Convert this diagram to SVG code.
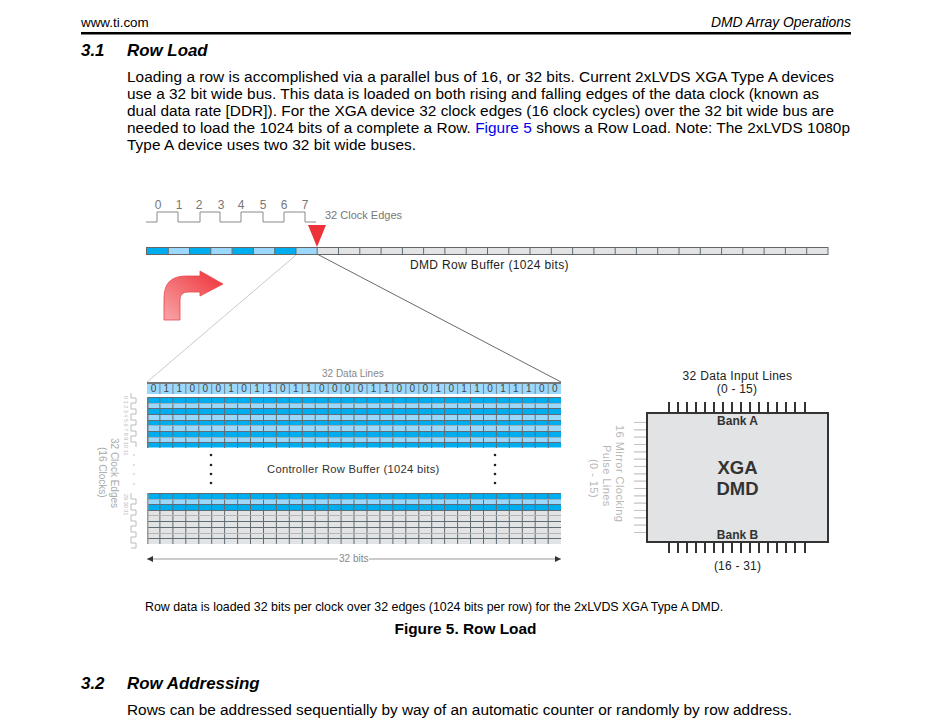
<svg xmlns="http://www.w3.org/2000/svg" width="928" height="727" viewBox="0 0 928 727">
<style>
text{font-family:"Liberation Sans",Arial,sans-serif}
.b{font-size:15.4px;fill:#000}
.h{font-size:16.9px;font-weight:bold;font-style:italic;fill:#000}
.bit{font-size:10px;fill:#444;text-anchor:middle}
.ck{font-size:12px;fill:#777;text-anchor:middle}
.wave{fill:none;stroke:#8a8a8a;stroke-width:1}
.vwave{fill:none;stroke:#bbb;stroke-width:1}
.blue{fill:#00aeef}.light{fill:#9bd8fb}.grey{fill:#e2e3e4}
.hl{stroke:#5f6c74;stroke-width:1;fill:none}
.hs{stroke:#9db0ba;stroke-width:1;fill:none}
.vl{stroke:#5f6c74;stroke-width:1;fill:none}
.pin{stroke:#333;stroke-width:2;fill:none}
.tiny{font-size:5.5px;fill:#bbb}
</style>
<defs>
<path id="vgrid" class="vl" d="M159.900 0V51M172.900 0V51M185.800 0V51M198.800 0V51M211.700 0V51M224.600 0V51M237.600 0V51M250.500 0V51M263.500 0V51M276.400 0V51M289.300 0V51M302.300 0V51M315.200 0V51M328.200 0V51M341.100 0V51M354 0V51M367 0V51M379.900 0V51M392.900 0V51M405.800 0V51M418.800 0V51M431.700 0V51M444.600 0V51M457.600 0V51M470.500 0V51M483.500 0V51M496.400 0V51M509.300 0V51M522.300 0V51M535.200 0V51M548.200 0V51"/>
<path id="vtop" class="vl" d="M159.900 0V10M172.900 0V10M185.800 0V10M198.800 0V10M211.700 0V10M224.600 0V10M237.600 0V10M250.500 0V10M263.500 0V10M276.400 0V10M289.300 0V10M302.300 0V10M315.200 0V10M328.200 0V10M341.100 0V10M354 0V10M367 0V10M379.900 0V10M392.900 0V10M405.800 0V10M418.800 0V10M431.700 0V10M444.600 0V10M457.600 0V10M470.500 0V10M483.500 0V10M496.400 0V10M509.300 0V10M522.300 0V10M535.200 0V10M548.200 0V10"/>
<linearGradient id="arr" x1="0" y1="1" x2="1" y2="0"><stop offset="0" stop-color="#f9a5a8"/><stop offset="1" stop-color="#ed2f36"/></linearGradient>
<marker id="ah" markerWidth="7" markerHeight="6" refX="6" refY="3" orient="auto-start-reverse"><path d="M0 0L6 3L0 6z" fill="#333"/></marker>
</defs>

<g id="page-header">
<text x="81" y="27" font-size="13.400" fill="#000">www.ti.com</text>
<text x="851" y="27" font-size="13.900" font-style="italic" text-anchor="end" fill="#000">DMD Array Operations</text>
<rect x="81" y="32" width="770" height="2.500" fill="#000"/>
</g>
<g id="section-3-1">
<text class="h" x="81" y="56">3.1</text>
<text class="h" x="127" y="56">Row Load</text>
<text class="b" x="127" y="81.500" textLength="707">Loading a row is accomplished via a parallel bus of 16, or 32 bits. Current 2xLVDS XGA Type A devices</text>
<text class="b" x="127" y="98.500" textLength="692">use a 32 bit wide bus. This data is loaded on both rising and falling edges of the data clock (known as</text>
<text class="b" x="127" y="115.500" textLength="707">dual data rate [DDR]). For the XGA device 32 clock edges (16 clock cycles) over the 32 bit wide bus are</text>
<text class="b" x="127" y="133" textLength="723">needed to load the 1024 bits of a complete a Row. <tspan fill="#0000ee">Figure 5</tspan> shows a Row Load. Note: The 2xLVDS 1080p</text>
<text class="b" x="127" y="150" textLength="289">Type A device uses two 32 bit wide buses.</text>
</g>

<g id="connectors">
<line x1="296" y1="255" x2="147" y2="382" stroke="#bbb" stroke-width="0.8"/>
<line x1="317" y1="254" x2="561" y2="382" stroke="#444" stroke-width="0.8"/>
<line x1="147" y1="559" x2="338" y2="559" stroke="#999" marker-start="url(#ah)"/>
<line x1="369" y1="559" x2="561" y2="559" stroke="#999" marker-end="url(#ah)"/>
</g>

<g id="clock-waveform">
<path class="wave" d="M146 222H157V212H178V222H200V212H220V222H241V212H263V222H284V212H305V222H316"/>
<text class="ck" x="158" y="209">0</text><text class="ck" x="179" y="209">1</text><text class="ck" x="199" y="209">2</text><text class="ck" x="221" y="209">3</text><text class="ck" x="241" y="209">4</text><text class="ck" x="263" y="209">5</text><text class="ck" x="284" y="209">6</text><text class="ck" x="305" y="209">7</text>
<text x="325" y="219" font-size="11" fill="#777">32 Clock Edges</text>
</g>

<g id="dmd-row-buffer">
<rect class="grey" x="147" y="248" width="681" height="6"/>
<rect class="blue" x="147" y="248" width="21.300" height="6"/><rect class="light" x="168.300" y="248" width="21.300" height="6"/>
<rect class="blue" x="189.600" y="248" width="21.300" height="6"/><rect class="light" x="210.900" y="248" width="21.300" height="6"/>
<rect class="blue" x="232.200" y="248" width="21.300" height="6"/><rect class="light" x="253.500" y="248" width="21.300" height="6"/>
<rect class="blue" x="274.800" y="248" width="21.300" height="6"/><rect class="light" x="296.100" y="248" width="21" height="6"/>
<path class="vl" d="M168.300 248V254M189.600 248V254M210.800 248V254M232.100 248V254M253.400 248V254M274.700 248V254M296 248V254M317.200 248V254M338.500 248V254M359.800 248V254M381.100 248V254M402.400 248V254M423.600 248V254M444.900 248V254M466.200 248V254M487.500 248V254M508.800 248V254M530 248V254M551.300 248V254M572.600 248V254M593.900 248V254M615.200 248V254M636.400 248V254M657.700 248V254M679 248V254M700.300 248V254M721.600 248V254M742.800 248V254M764.100 248V254M785.400 248V254M806.700 248V254"/>
<rect x="146.500" y="247.500" width="681.500" height="7" fill="none" stroke="#666" stroke-width="1"/>
<text x="410" y="269" font-size="12" fill="#222" letter-spacing=".35">DMD Row Buffer (1024 bits)</text>
</g>

<g id="edge-pointer"><path d="M308 225H326L317 247z" fill="#ee3338"/></g>

<g id="load-arrow">
<path d="M164 320V298Q164 276 186 276H200V271L223 284L200 296V292H188Q180 292 180 300V320z" fill="url(#arr)" stroke="#e8474c" stroke-width="0.8"/>
</g>

<g id="data-lines">
<text x="322" y="377" font-size="10" fill="#888">32 Data Lines</text>
<rect class="light" x="147" y="384" width="414" height="10"/>
<use href="#vtop" y="384" opacity=".75"/>
<rect x="147" y="382" width="414" height="2" fill="#777"/>
<text class="bit" y="392" x="153.500 166.400 179.300 192.300 205.200 218.200 231.100 244.100 257 270 282.900 295.800 308.800 321.700 334.700 347.600 360.600 373.500 386.500 399.400 412.300 425.300 438.200 451.200 464.100 477.100 490 503 515.900 528.800 541.800 554.700">01100010110110000110001011011100</text>
</g>

<g id="controller-row-buffer">
<rect class="blue" x="147" y="397" width="414" height="6.500"/>
<rect class="light" x="147" y="403.500" width="414" height="5"/>
<rect class="blue" x="147" y="408.500" width="414" height="6"/>
<rect class="light" x="147" y="414.500" width="414" height="5.500"/>
<rect class="blue" x="147" y="420" width="414" height="5.500"/>
<rect class="light" x="147" y="425.500" width="414" height="6"/>
<rect class="blue" x="147" y="431.500" width="414" height="5.500"/>
<rect class="light" x="147" y="437" width="414" height="5.500"/>
<rect class="blue" x="147" y="442.500" width="414" height="5"/>
<use href="#vgrid" y="397"/>
<path class="hl" d="M147 397.500H561M147 408.500H561M147 414.500H561M147 420.500H561M147 431.500H561M147 442.500H561"/>
<path class="hs" d="M147 403.500H561M147 425.500H561M147 437.500H561"/>
<rect x="147" y="397" width="1.500" height="51" fill="#777"/>

<rect class="blue" x="147" y="493" width="414" height="6.500"/>
<rect class="light" x="147" y="499.500" width="414" height="5"/>
<rect class="blue" x="147" y="504.500" width="414" height="6"/>
<rect class="grey" x="147" y="510.500" width="414" height="33.500"/>
<use href="#vgrid" y="493"/>
<path class="hl" d="M147 493.500H561M147 504.500H561M147 510.500H561M147 521.500H561M147 527.500H561M147 538.500H561"/>
<path d="M147 499.500H561" class="hs"/>
<path d="M147 515.500H561M147 533.500H561" stroke="#b5b5b5" fill="none"/>
<rect x="147" y="493" width="1.500" height="51" fill="#999"/>

<text x="267" y="473" font-size="11.200" letter-spacing=".3" fill="#333">Controller Row Buffer (1024 bits)</text>
<g fill="#222">
<circle cx="211" cy="455" r="1.300"/><circle cx="211" cy="465" r="1.300"/><circle cx="211" cy="474" r="1.300"/><circle cx="211" cy="483" r="1.300"/>
<circle cx="495" cy="455" r="1.300"/><circle cx="495" cy="465" r="1.300"/><circle cx="495" cy="474" r="1.300"/><circle cx="495" cy="483" r="1.300"/>
</g>
<text x="339" y="562" font-size="10" fill="#888">32 bits</text>
</g>

<g id="mirror-clock-waveforms">
<path class="vwave" d="M131 393V398H136V403H131V409H136V414H131V420H136V425H131V431H136V436H131V442H136V447"/>
<path class="vwave" d="M131 493V499H136V504H131V510H136V515H131V521H136V526H131V532H136V537H131V543H136V548H131"/>
<text class="tiny" transform="translate(124 396) rotate(90)">0 1 2 3 4 5 6 7 8 9 10 11</text>
<text class="tiny" transform="translate(124 494) rotate(90)">29 30 31</text>
<g fill="#aaa"><circle cx="134" cy="455" r=".7"/><circle cx="134" cy="465" r=".7"/><circle cx="134" cy="474" r=".7"/><circle cx="134" cy="484" r=".7"/></g>
<text transform="translate(111 438) rotate(90)" font-size="10" fill="#aaa">32 Clock Edges</text>
<text transform="translate(99 447) rotate(90)" font-size="10" fill="#aaa">(16 Clocks)</text>
</g>

<g id="xga-dmd">
<text x="737.500" y="380" font-size="12" letter-spacing=".3" text-anchor="middle" fill="#222">32 Data Input Lines</text>
<text x="737" y="393" font-size="12" letter-spacing=".2" text-anchor="middle" fill="#222">(0 - 15)</text>
<path class="pin" d="M669 402V412M678 402V412M687 402V412M696 402V412M705 402V412M714 402V412M723 402V412M732 402V412M741 402V412M750 402V412M759 402V412M768 402V412M777 402V412M786 402V412M795 402V412M805 402V412"/>
<path class="pin" d="M669 543V553M678 543V553M687 543V553M696 543V553M705 543V553M714 543V553M723 543V553M732 543V553M741 543V553M750 543V553M759 543V553M768 543V553M777 543V553M786 543V553M795 543V553M805 543V553"/>
<path d="M634 422.500H646M634 429.800H646M634 437.200H646M634 444.500H646M634 451.800H646M634 459.200H646M634 466.500H646M634 473.800H646M634 481.200H646M634 488.500H646M634 495.800H646M634 503.200H646M634 510.500H646M634 517.800H646M634 525.200H646M634 532.500H646" stroke="#c4c4c4" stroke-width="1.200" fill="none"/>
<rect x="647" y="413" width="181" height="129" fill="#e1e3e5" stroke="#333" stroke-width="2"/>
<text x="737.500" y="425" font-size="12" font-weight="bold" text-anchor="middle" fill="#333">Bank A</text>
<text x="737.500" y="539" font-size="12" font-weight="bold" text-anchor="middle" fill="#333">Bank B</text>
<text x="737.500" y="474" font-size="18.500" font-weight="bold" text-anchor="middle" fill="#333">XGA</text>
<text x="737.500" y="495" font-size="18.500" font-weight="bold" text-anchor="middle" fill="#333">DMD</text>
<text x="737.500" y="570" font-size="12" letter-spacing=".2" text-anchor="middle" fill="#222">(16 - 31)</text>
<text transform="translate(616 425) rotate(90)" font-size="11" letter-spacing=".45" fill="#b8b8b8">16 Mirror Clocking</text>
<text transform="translate(603 445) rotate(90)" font-size="11" letter-spacing=".45" fill="#b8b8b8">Pulse Lines</text>
<text transform="translate(590 459) rotate(90)" font-size="11" letter-spacing=".45" fill="#b8b8b8">(0 - 15)</text>
</g>

<g id="figure-caption">
<text x="145" y="611" font-size="12.400" fill="#000">Row data is loaded 32 bits per clock over 32 edges (1024 bits per row) for the 2xLVDS XGA Type A DMD.</text>
<text x="465.500" y="634" font-size="15.400" font-weight="bold" text-anchor="middle" fill="#000">Figure 5. Row Load</text>
</g>

<g id="section-3-2">
<text class="h" x="81" y="689">3.2</text>
<text class="h" x="127" y="689">Row Addressing</text>
<text class="b" x="127" y="715" textLength="665">Rows can be addressed sequentially by way of an automatic counter or randomly by row address.</text>
</g>
</svg>
